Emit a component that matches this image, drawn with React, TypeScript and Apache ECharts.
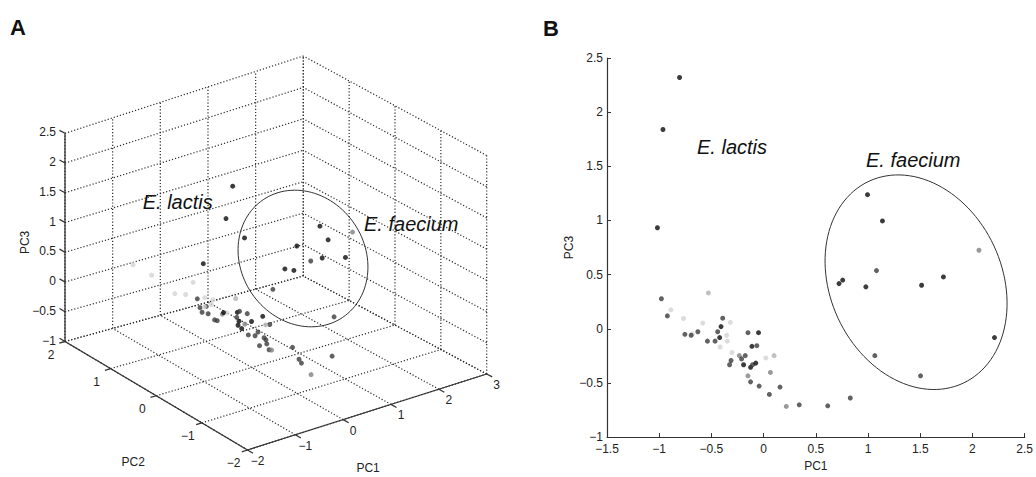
import React, { useEffect, useRef } from "react";
import * as echarts from "echarts";

const FONT = '"Liberation Sans", Arial, Helvetica, sans-serif';

// ---------------- data: principal component scores ----------------
const pc1 = [
  -0.805, -0.964, -1.017,
  -0.979, -0.888, -0.922, -0.767, -0.529, -0.754, -0.684, -0.694, -0.63, -0.583,
  -0.538, -0.392, -0.408, -0.319, -0.44, -0.465, -0.421, -0.354, -0.348, -0.417,
  -0.303, -0.312, -0.326, -0.233, -0.211, -0.176, -0.192, -0.15, -0.049, -0.112,
  -0.065, -0.125, -0.106, -0.075, -0.15, -0.125, -0.043, 0.055, 0.021, 0.1,
  0.065, 0.157, 0.217, 0.341, 0.614, 0.83,
  0.722, 0.757, 0.979, 1.081, 1.513, 1.722, 2.062, 2.211, 1.065, 1.503, 0.995, 1.138,
];
const pc2 = [
  -0.42, -0.44, 0.0,
  0.17, 1.67, 0.17, 1.39, -0.2, 0.3, 0.97, 0.23, -0.73, -0.06,
  -0.89, -0.31, -0.42, 0.95, -0.13, 0.51, -0.16, 0.66, 0.52, 0.6,
  1.13, -0.25, -0.72, 0.4, -0.53, -0.32, 0.02, -0.55, -0.29, 0.2,
  0.2, 0.17, -0.38, 0.54, -0.59, -0.3, 0.71, 0.87, 0.87, -0.2,
  0.22, -0.87, -1.07, -0.73, -0.25, -0.89,
  0.03, -0.13, 1.18, -0.16, 0.04, -0.25, -0.05, 1.32, 0.65, -0.23, -0.45, -0.48,
];
const pc3 = [
  2.32, 1.84, 0.933,
  0.277, 0.175, 0.119, 0.095, 0.331, -0.051, -0.048, -0.06, -0.027, 0.053,
  -0.114, 0.098, 0.02, 0.059, -0.027, -0.114, -0.081, -0.06, -0.114, -0.168,
  -0.219, -0.293, -0.332, -0.248, -0.278, -0.248, -0.332, -0.036, -0.036, -0.162,
  -0.156, -0.356, -0.332, -0.317, -0.434, -0.49, -0.529, -0.606, -0.269, -0.248,
  -0.403, -0.538, -0.717, -0.702, -0.711, -0.639,
  0.417, 0.45, 0.387, 0.537, 0.402, 0.479, 0.725, -0.081, -0.248, -0.434, 1.238, 0.996,
];
// 0 black, 1 dark grey, 2 mid grey, 3 light-mid grey, 4 light grey
const shade = [
  0, 0, 0,
  1, 4, 1, 4, 3, 1, 4, 1, 1, 4,
  1, 1, 0, 4, 1, 1, 0, 4, 4, 4,
  4, 1, 1, 2, 1, 1, 0, 1, 0, 0,
  1, 0, 1, 0, 2, 1, 1, 1, 4, 3,
  2, 1, 2, 1, 1, 1,
  0, 0, 0, 1, 0, 0, 2, 0, 1, 1, 0, 0,
];
const shadeColors = ["#0b0b0b", "#3b3b3b", "#7f7f7f", "#b2b2b2", "#d3d3d3"];

// ---------------- ticks ----------------
const pc1Ticks = [-2, -1, 0, 1, 2, 3];
const pc2Ticks = [-2, -1, 0, 1, 2];
const pc3Ticks = [-1, -0.5, 0, 0.5, 1, 1.5, 2, 2.5];
const bXRange = [-1.5, 2.5];
const bYRange = [-1, 2.5];

// ---------------- annotations ----------------
const groupLabels = ["E. lactis", "E. faecium"];

// ---------------- layout of panel A's 3-D box (screen corners) ----------------
const BOX_BOTTOM = { F: [247.5, 450], R: [486.7, 374], L: [65, 341.5], B: [303.3, 276] };
const BOX_TOP = { F: [248, 233], R: [486.7, 155.5], L: [65, 133.3], B: [303.3, 56] };
const ELLIPSE_A = { cx: 303, cy: 258.5, a: 71, b: 62, angle: 56 }; // projection plane units
const ELLIPSE_B = { cx: 1.46, cy: 0.43, a: 1.067, b: 0.823, angle: 65 }; // PC units (a,b in PC1 units)

const fmt = (v: number) => String(v).replace("-", "\u2212");

const R1 = [pc1Ticks[0], pc1Ticks[pc1Ticks.length - 1]];
const R2 = [pc2Ticks[0], pc2Ticks[pc2Ticks.length - 1]];
const R3 = [pc3Ticks[0], pc3Ticks[pc3Ticks.length - 1]];

function project(a: number, b: number, c: number): [number, number] {
  const u = (a - R1[0]) / (R1[1] - R1[0]);
  const v = (b - R2[0]) / (R2[1] - R2[0]);
  const w = (c - R3[0]) / (R3[1] - R3[0]);
  const bil = (q: any) =>
    [0, 1].map(
      (i) => q.F[i] * (1 - u) * (1 - v) + q.R[i] * u * (1 - v) + q.L[i] * (1 - u) * v + q.B[i] * u * v
    );
  const lo = bil(BOX_BOTTOM);
  const hi = bil(BOX_TOP);
  return [lo[0] + (hi[0] - lo[0]) * w, lo[1] + (hi[1] - lo[1]) * w];
}

function ellipsePts(cx: number, cy: number, a: number, b: number, angDeg: number) {
  const th = (angDeg * Math.PI) / 180;
  const pts: number[][] = [];
  for (let k = 0; k <= 120; k++) {
    const t = (k / 120) * Math.PI * 2;
    pts.push([
      cx + a * Math.cos(th) * Math.cos(t) - b * Math.sin(th) * Math.sin(t),
      cy + a * Math.sin(th) * Math.cos(t) + b * Math.cos(th) * Math.sin(t),
    ]);
  }
  return pts;
}

function txt(x: number, y: number, text: string, align: string, extra: any = {}) {
  return {
    type: "text",
    x,
    y,
    ...extra,
    style: {
      text,
      fill: "#222",
      font: `12px ${FONT}`,
      align,
      verticalAlign: "middle",
      textAlign: align,
      textVerticalAlign: "middle",
    },
  };
}

function buildOption() {
  const dot = { stroke: "#2a2a2a", lineWidth: 1.2, lineDash: [1.2, 2] };
  const solid = { stroke: "#333", lineWidth: 1.3 };

  const boxRender = (_params: any, api: any) => {
    const P = (a: number, b: number, c: number) => api.coord(project(a, b, c));
    const ch: any[] = [];
    const line = (p: number[], q: number[], style: any) =>
      ch.push({ type: "line", shape: { x1: p[0], y1: p[1], x2: q[0], y2: q[1] }, style });
    // floor grid
    pc1Ticks.forEach((t) => line(P(t, R2[0], R3[0]), P(t, R2[1], R3[0]), dot));
    pc2Ticks.forEach((t) => line(P(R1[0], t, R3[0]), P(R1[1], t, R3[0]), dot));
    // back wall (PC2 = max)
    pc1Ticks.forEach((t) => line(P(t, R2[1], R3[0]), P(t, R2[1], R3[1]), dot));
    pc3Ticks.forEach((t) => line(P(R1[0], R2[1], t), P(R1[1], R2[1], t), dot));
    // side wall (PC1 = max)
    pc2Ticks.forEach((t) => line(P(R1[1], t, R3[0]), P(R1[1], t, R3[1]), dot));
    pc3Ticks.forEach((t) => line(P(R1[1], R2[0], t), P(R1[1], R2[1], t), dot));
    // axes
    line(P(R1[0], R2[1], R3[0]), P(R1[0], R2[1], R3[1]), solid); // PC3
    line(P(R1[0], R2[1], R3[0]), P(R1[0], R2[0], R3[0]), solid); // PC2
    line(P(R1[0], R2[0], R3[0]), P(R1[1], R2[0], R3[0]), solid); // PC1
    // ticks + labels
    pc3Ticks.forEach((t) => {
      const p = P(R1[0], R2[1], t);
      line(p, P(R1[0], R2[1] + 0.12, t), solid);
      ch.push(txt(p[0] - 9, p[1] - 1, fmt(t), "right"));
    });
    pc2Ticks.forEach((t) => {
      const p = P(R1[0], t, R3[0]);
      line(p, P(R1[0] - 0.12, t, R3[0]), solid);
      ch.push(txt(p[0] - 14, p[1] + 13, fmt(t), "center"));
    });
    pc1Ticks.forEach((t) => {
      const p = P(t, R2[0], R3[0]);
      line(p, P(t, R2[0] - 0.12, R3[0]), solid);
      ch.push(txt(p[0] + 10, p[1] + 11, fmt(t), "center"));
    });
    // axis names
    const f = P(R1[0], R2[0], R3[0]);
    const r = P(R1[1], R2[0], R3[0]);
    const l = P(R1[0], R2[1], R3[0]);
    const lt = P(R1[0], R2[1], R3[1]);
    ch.push(txt((f[0] + r[0]) / 2 + 1, (f[1] + r[1]) / 2 + 56, "PC1", "center"));
    ch.push(txt((f[0] + l[0]) / 2 - 23, (f[1] + l[1]) / 2 + 66, "PC2", "center"));
    ch.push(txt((l[0] + lt[0]) / 2 - 40, (l[1] + lt[1]) / 2 + 5, "PC3", "center", { rotation: Math.PI / 2 }));
    return { type: "group", children: ch };
  };

  const ellipseStyle = { stroke: "#333", lineWidth: 1, fill: "none" };
  const ellipseARender = (_p: any, api: any) => {
    const c = api.coord([ELLIPSE_A.cx, ELLIPSE_A.cy]);
    const s = api.size([1, 1])[0];
    return {
      type: "polyline",
      shape: { points: ellipsePts(c[0], c[1], ELLIPSE_A.a * s, ELLIPSE_A.b * s, ELLIPSE_A.angle) },
      style: ellipseStyle,
    };
  };
  const ellipseBRender = (_p: any, api: any) => {
    const c = api.coord([ELLIPSE_B.cx, ELLIPSE_B.cy]);
    const s = api.size([1, 1])[0];
    return {
      type: "polyline",
      shape: { points: ellipsePts(c[0], c[1], ELLIPSE_B.a * s, ELLIPSE_B.b * s, ELLIPSE_B.angle) },
      style: ellipseStyle,
    };
  };

  const dataA = pc1.map((_, i) => ({
    value: project(pc1[i], pc2[i], pc3[i]),
    itemStyle: { color: shadeColors[shade[i]] },
  }));
  const dataB = pc1.map((a, i) => ({
    value: [a, pc3[i]],
    itemStyle: { color: shadeColors[shade[i]] },
  }));

  const axisCommon = {
    type: "value",
    gridIndex: 1,
    interval: 0.5,
    axisLine: { show: true, onZero: false, lineStyle: { color: "#333", width: 1.2 } },
    axisTick: { show: true, inside: true, length: 4, lineStyle: { color: "#333" } },
    splitLine: { show: false },
    nameLocation: "middle",
    nameTextStyle: { color: "#222", fontSize: 12, fontFamily: FONT },
  };

  const annot = (x: number, y: number, text: string) => ({
    type: "text",
    x,
    y,
    style: {
      text,
      fill: "#111",
      font: `italic 20px ${FONT}`,
      textAlign: "left",
      textVerticalAlign: "middle",
    },
  });
  const panel = (x: number, y: number, text: string) => ({
    type: "text",
    x,
    y,
    style: {
      text,
      fill: "#111",
      font: `bold 22px ${FONT}`,
      textAlign: "left",
      textVerticalAlign: "middle",
    },
  });

  return {
    animation: false,
    backgroundColor: "#ffffff",
    grid: [
      { left: 0, top: 0, width: 1036, height: 477 },
      { left: 607, top: 58, width: 420, height: 391 },
    ],
    xAxis: [
      { type: "value", gridIndex: 0, min: 0, max: 1036, show: false },
      {
        ...axisCommon,
        min: bXRange[0],
        max: bXRange[1],
        name: "PC1",
        nameGap: 20,
        axisLabel: { color: "#222", fontSize: 12, fontFamily: FONT, margin: 6, formatter: fmt },
      },
    ],
    yAxis: [
      { type: "value", gridIndex: 0, min: 0, max: 477, inverse: true, show: false },
      {
        ...axisCommon,
        min: bYRange[0],
        max: bYRange[1],
        name: "PC3",
        nameGap: 29,
        axisLabel: { color: "#222", fontSize: 12, fontFamily: FONT, margin: 4, formatter: fmt },
      },
    ],
    series: [
      {
        type: "custom",
        xAxisIndex: 0,
        yAxisIndex: 0,
        data: [[0, 0]],
        renderItem: boxRender,
        clip: false,
        silent: true,
        z: 1,
      },
      {
        type: "scatter",
        xAxisIndex: 0,
        yAxisIndex: 0,
        symbolSize: 5,
        data: dataA,
        silent: true,
        z: 3,
      },
      {
        type: "custom",
        xAxisIndex: 0,
        yAxisIndex: 0,
        data: [[0, 0]],
        renderItem: ellipseARender,
        clip: false,
        silent: true,
        z: 4,
      },
      {
        type: "scatter",
        xAxisIndex: 1,
        yAxisIndex: 1,
        symbolSize: 5,
        data: dataB,
        silent: true,
        z: 3,
      },
      {
        type: "custom",
        xAxisIndex: 1,
        yAxisIndex: 1,
        data: [[0, 0]],
        renderItem: ellipseBRender,
        clip: false,
        silent: true,
        z: 4,
      },
    ],
    graphic: [
      panel(10, 27, "A"),
      panel(543, 28, "B"),
      annot(142.7, 201.7, groupLabels[0]),
      annot(364, 224, groupLabels[1]),
      annot(697, 147, groupLabels[0]),
      annot(866, 160, groupLabels[1]),
    ],
  };
}

export default function App() {
  const ref = useRef<HTMLDivElement>(null);
  useEffect(() => {
    const chart = echarts.init(ref.current as HTMLDivElement, undefined, { renderer: "svg" });
    chart.setOption(buildOption() as any);
    return () => chart.dispose();
  }, []);
  return (
    <div
      ref={ref}
      style={{ position: "fixed", left: 0, top: 0, width: 1036, height: 477, background: "#fff" }}
    />
  );
}
